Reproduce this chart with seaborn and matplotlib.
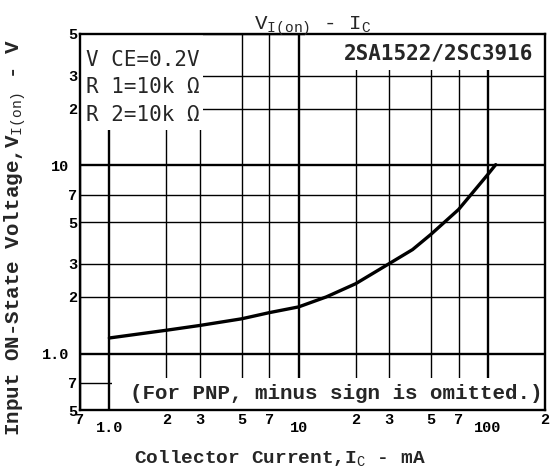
import pandas as pd
import matplotlib
matplotlib.use("Agg")
import matplotlib.pyplot as plt
from matplotlib.ticker import FixedLocator, FixedFormatter
from matplotlib.patches import Rectangle
import seaborn as sns

# Curva (IC en mA, VI(on) en V)
ic_ma = [1, 2, 3, 5, 7, 10, 14, 20, 30, 40, 50, 70, 100, 110]
v_on = [1.21, 1.33, 1.41, 1.53, 1.65, 1.77, 2.0, 2.35, 3.0, 3.57, 4.3, 5.83, 8.96, 10.1]

# Ticks
x_major = [1, 10, 100]
x_major_labels = ["1.0", "10", "100"]
x_minor = [0.7, 2, 3, 5, 7, 20, 30, 50, 70, 200]
x_minor_labels = ["7", "2", "3", "5", "7", "2", "3", "5", "7", "2"]
y_major = [1, 10]
y_major_labels = ["1.0", "10"]
y_minor = [0.5, 0.7, 2, 3, 5, 7, 20, 30, 50]
y_minor_labels = ["5", "7", "2", "3", "5", "7", "2", "3", "5"]

sns.set_theme(style="white")
plt.rcParams['font.family'] = ['Liberation Mono', 'DejaVu Sans']
plt.rcParams['mathtext.fontset'] = 'custom'
plt.rcParams['mathtext.rm'] = 'Liberation Mono'
plt.rcParams['mathtext.bf'] = 'Liberation Mono:bold'

fig = plt.figure(figsize=(5.52, 4.72), dpi=100)
ax = fig.add_axes([0.145, 0.131, 0.842, 0.797])

df = pd.DataFrame({"ic": ic_ma, "v": v_on})
sns.lineplot(data=df, x="ic", y="v", ax=ax, color="black", linewidth=2.4, zorder=4)

ax.set_xscale("log")
ax.set_yscale("log")
ax.set_xlim(0.7, 200)
ax.set_ylim(0.5, 50)

ax.xaxis.set_major_locator(FixedLocator(x_major))
ax.xaxis.set_major_formatter(FixedFormatter(x_major_labels))
ax.xaxis.set_minor_locator(FixedLocator(x_minor))
ax.xaxis.set_minor_formatter(FixedFormatter(x_minor_labels))
ax.yaxis.set_major_locator(FixedLocator(y_major))
ax.yaxis.set_major_formatter(FixedFormatter(y_major_labels))
ax.yaxis.set_minor_locator(FixedLocator(y_minor))
ax.yaxis.set_minor_formatter(FixedFormatter(y_minor_labels))

ax.tick_params(which='both', length=0, labelsize=11, colors='black')
ax.tick_params(axis='x', which='minor', pad=2)
ax.tick_params(axis='x', which='major', pad=8)
ax.tick_params(axis='y', which='minor', pad=2)
ax.tick_params(axis='y', which='major', pad=8)
for lab in ax.get_xticklabels(which='both') + ax.get_yticklabels(which='both'):
    lab.set_fontweight('bold')

# Rejilla: décadas más gruesas
ax.grid(which='major', color='black', linewidth=1.7)
ax.grid(which='minor', color='black', linewidth=1.0)
for s in ax.spines.values():
    s.set_color('black')
    s.set_linewidth(1.7)

# Zonas blancas detrás de los textos
for (x0, y0, w, h) in [(0, 0.745, 0.264, 0.255), (0.484, 0.904, 0.516, 0.096), (0.069, 0, 0.931, 0.085)]:
    ax.add_patch(Rectangle((x0, y0), w, h, transform=ax.transAxes,
                           facecolor='white', edgecolor='none', zorder=2))

ax.text(0.013, 0.932, "V CE=0.2V", transform=ax.transAxes, fontsize=15,
        family='DejaVu Sans Mono', va='center', ha='left', zorder=5)
ax.text(0.013, 0.860, "R 1=10k Ω", transform=ax.transAxes, fontsize=15,
        family='DejaVu Sans Mono', va='center', ha='left', zorder=5)
ax.text(0.013, 0.785, "R 2=10k Ω", transform=ax.transAxes, fontsize=15,
        family='DejaVu Sans Mono', va='center', ha='left', zorder=5)
ax.text(0.975, 0.948, "2SA1522/2SC3916", transform=ax.transAxes, fontsize=15,
        family='DejaVu Sans Mono', fontweight='bold', va='center', ha='right', zorder=5)
ax.text(0.995, 0.045, "(For PNP, minus sign is omitted.)", transform=ax.transAxes,
        fontsize=15, fontweight='bold', va='center', ha='right', zorder=5)

ax.set_title(r"V$_{\rm I(on)}$ - I$_{\rm C}$", fontsize=15, pad=3)
ax.set_xlabel(r"Collector Current,I$_{\rm C}$ - mA", fontsize=14, fontweight='bold')
ax.set_ylabel(r"Input ON-State Voltage,V$_{\rm I(on)}$ - V", fontsize=15, fontweight='bold')
ax.xaxis.set_label_coords(0.43, -0.103)
ax.yaxis.set_label_coords(-0.112, 0.46)

fig.savefig("out.png", dpi=100)
